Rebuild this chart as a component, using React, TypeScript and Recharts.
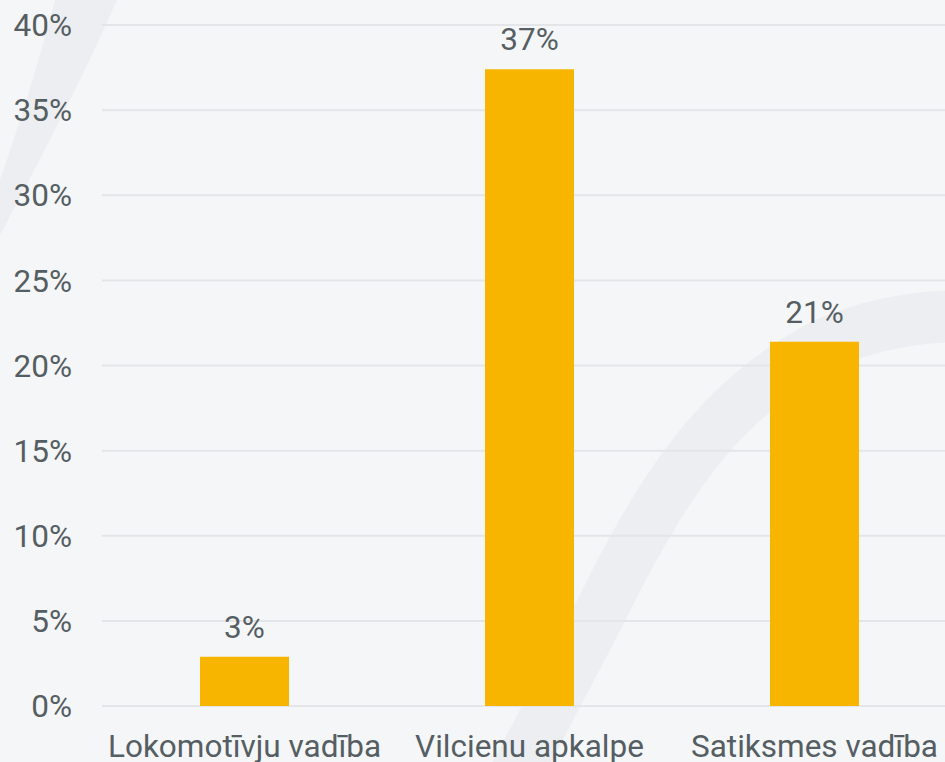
import { BarChart, Bar, XAxis, YAxis, CartesianGrid, LabelList } from 'recharts';

const categories = ['Lokomotīvju vadība', 'Vilcienu apkalpe', 'Satiksmes vadība'];
const shares = [2.9, 37.4, 21.4];
const yTicks = [0, 5, 10, 15, 20, 25, 30, 35, 40];

const data = categories.map((name, i) => ({ name, value: shares[i] }));

const textColor = '#555e62';
const font = 'Roboto, sans-serif';
const fontSize = 31.5;

// faint decorative strokes behind the chart
function Backdrop() {
  return (
    <svg width={945} height={762} style={{ position: 'absolute', left: 0, top: 0 }}>
      <path d="M 55 0 L 117 0 Q 80 85 0 235 L 0 180 Q 30 95 55 0 Z" fill="#edeef1" />
      <path
        d="M 515 775 L 600 613 C 660 490, 720 395, 830 342 C 870 325, 910 317, 960 316"
        fill="none"
        stroke="#edeef1"
        strokeWidth={52}
      />
    </svg>
  );
}

export default function App() {
  return (
    <div
      style={{
        position: 'fixed',
        left: 0,
        top: 0,
        width: 945,
        height: 762,
        overflow: 'hidden',
        background: '#f5f6f8',
      }}
    >
      <Backdrop />
      <div style={{ position: 'absolute', left: 0, top: 0 }}>
        <BarChart
          width={957}
          height={800}
          data={data}
          margin={{ top: 25, right: 0, left: 0, bottom: 0 }}
        >
          <CartesianGrid vertical={false} stroke="#e4e5e8" strokeWidth={2} />
          <XAxis
            dataKey="name"
            axisLine={false}
            tickLine={false}
            tickSize={0}
            tickMargin={29}
            height={94}
            interval={0}
            tick={{ fill: textColor, fontSize, fontFamily: font }}
          />
          <YAxis
            domain={[0, 40]}
            ticks={yTicks}
            tickFormatter={(v) => `${v}%`}
            axisLine={false}
            tickLine={false}
            tickSize={0}
            tickMargin={30}
            width={102}
            tick={{ fill: textColor, fontSize, fontFamily: font }}
          />
          <Bar dataKey="value" fill="#f7b500" barSize={89} isAnimationActive={false}>
            <LabelList
              dataKey="value"
              position="top"
              offset={19}
              formatter={(v: number) => `${Math.round(v)}%`}
              style={{ fill: textColor, fontSize, fontFamily: font }}
            />
          </Bar>
        </BarChart>
      </div>
    </div>
  );
}
